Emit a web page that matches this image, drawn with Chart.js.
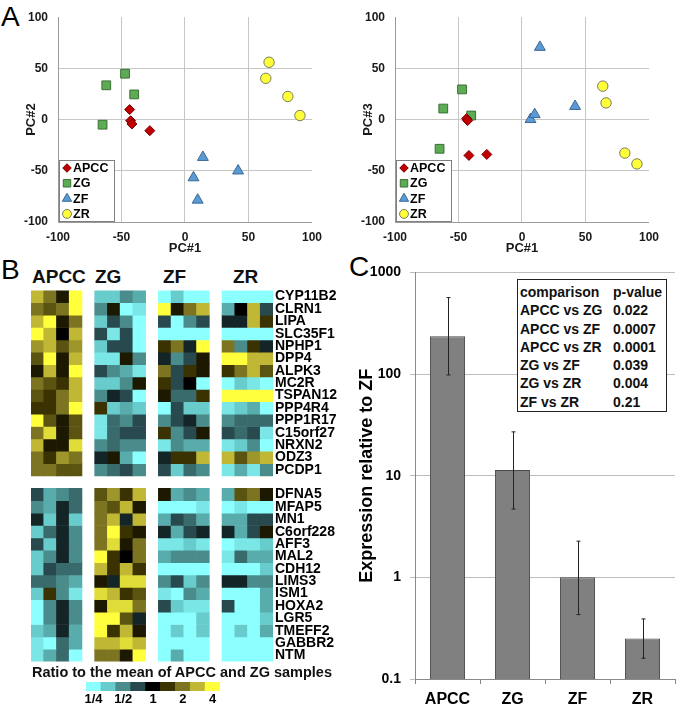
<!DOCTYPE html>
<html>
<head>
<meta charset="utf-8">
<script src="https://cdn.jsdelivr.net/npm/chart.js@4/dist/chart.umd.min.js"></script>
<style>
  body { margin: 0; background: #fff; }
  #page { position: relative; width: 677px; height: 706px; overflow: hidden;
          font-family: "Liberation Sans", Arial, sans-serif; font-weight: bold; color: #111; }
  .abs { position: absolute; line-height: 1; white-space: nowrap; }
  .panel { font-weight: normal; font-size: 28px; color: #000; }
  canvas { position: absolute; }
  #pvals { position: absolute; left: 517px; top: 279px; width: 148px; height: 128px;
           border: 1px solid #222; background: #fff; font-size: 14px; padding-top: 3px; box-sizing: content-box; }
  #pvals div { height: 18.3px; line-height: 18.3px; position: relative; }
  #pvals span { position: absolute; }
</style>
</head>
<body>
<div id="page">
  <div class="abs panel" style="left:1px;top:3px">A</div>
  <div class="abs panel" style="left:1px;top:256px">B</div>
  <div class="abs panel" style="left:349px;top:253px">C</div>

  <canvas id="pcaLeft" width="330" height="258" style="left:0;top:0"></canvas>
  <canvas id="pcaRight" width="330" height="258" style="left:337px;top:0"></canvas>

  <div class="abs" style="left:32px;top:267px;font-size:19px">APCC</div>
  <div class="abs" style="left:95px;top:267px;font-size:19px">ZG</div>
  <div class="abs" style="left:163px;top:267px;font-size:19px">ZF</div>
  <div class="abs" style="left:233px;top:267px;font-size:19px">ZR</div>
  <canvas id="heat" width="345" height="392" style="left:0;top:280px"></canvas>
  <div class="abs" style="left:32px;top:665px;font-size:14.5px">Ratio to the mean of APCC and ZG samples</div>
  <canvas id="scaleBar" width="150" height="28" style="left:80px;top:678px"></canvas>

  <canvas id="qpcr" width="340" height="451" style="left:337px;top:255px"></canvas>
  <div id="pvals"></div>
</div>
<script>
// ---- panel A: PCA scores ----
const groupNames = ["APCC", "ZG", "ZF", "ZR"];
const pc1Apcc = [-43.6, -42.8, -41.8, -27.7];
const pc1Zg = [-47.2, -62, -40, -64.9];
const pc1Zf = [14.1, 41.8, 6.7, 10];
const pc1Zr = [66.2, 63.6, 81, 90.5];
const pc2Apcc = [9.8, -1.1, -4.3, -10.8];
const pc2Zg = [44.8, 33.5, 24.6, -5];
const pc2Zf = [-36.8, -50, -56.7, -78.5];
const pc2Zr = [56, 40.3, 22.6, 4];
const pc3Apcc = [1, -1, -35, -34];
const pc3Zg = [29.5, 10.8, 4, -28.5];
const pc3Zf = [70.7, 13, 0.2, 5];
const pc3Zr = [16.3, 32.7, -32.7, -43.3];
const pcTicks = [-100, -50, 0, 50, 100];

// ---- panel B: heatmap, log2 ratio to mean of APCC and ZG ----
const topGenes = ["CYP11B2", "CLRN1", "LIPA", "SLC35F1", "NPHP1", "DPP4", "ALPK3", "MC2R",
  "TSPAN12", "PPP4R4", "PPP1R17", "C15orf27", "NRXN2", "ODZ3", "PCDP1"];
const bottomGenes = ["DFNA5", "MFAP5", "MN1", "C6orf228", "AFF3", "MAL2", "CDH12", "LIMS3",
  "ISM1", "HOXA2", "LGR5", "TMEFF2", "GABBR2", "NTM"];

const apccTop = [
  [1.5, 1, 0.25, 2], [1, 0.75, 1, 2], [1.5, 2, 0.25, 1], [2, 1.5, 0, 1.5],
  [1.25, 1.5, 0.75, 1.25], [0.75, 2, 0.25, 1.5], [0.25, 1.5, 0.25, 2], [1, 0.75, 0.5, 1.5],
  [0.75, 0.5, 1, 1.5], [0.5, 0.5, 1, 2], [2, 0.75, 0.25, 0.75], [1, 1.75, 0.25, 0.75],
  [1.5, 0.25, 0.25, 1.75], [1, 0.5, 1.25, 1], [1, 1, 0.75, 0.75]];
const zgTop = [
  [-1.5, -1.5, -1, -1.25], [-1, 0.25, -2, -1.75], [-1.5, -0.5, -1, -2], [-0.5, -1.75, -0.5, -2],
  [-1.5, -0.5, -0.5, -2], [-1.75, -1.75, 0.25, -1], [-0.5, -1, -1.25, -1.75], [-1.5, -1.5, -1, 0.25],
  [-1, -0.25, -0.5, -2], [0.5, -1.5, -1.25, -1.5], [-1.75, -0.75, -1, -0.5], [-1.75, -0.75, -0.5, -0.5],
  [-1, -0.75, -1, -1], [-0.25, 0.25, -1.25, -2], [-1, -0.75, -0.5, -1]];
const zfTop = [
  [-2, -1.5, -2, -2], [2, 0.25, 1, 1.5], [-0.5, -2, -1, -0.5], [-2, -2, -2, -2],
  [0.5, 1, -0.25, 2], [-0.25, -1, -0.5, 0.25], [1, -0.5, 0.5, 0.25], [0.5, -0.5, 0, -2],
  [0.25, -0.75, -0.75, 0.5], [-2, -0.5, -1.5, -1.5], [-1, -0.5, -0.25, -1], [0.5, -1, -0.5, 0.25],
  [-1.75, -1, -1.25, -1.25], [-0.25, 0.5, 0.5, 1.5], [-0.5, -1.5, -0.75, -1]];
const zrTop = [
  [-2, -2, -2, -2], [-1.25, 0, 1.5, -0.5], [-0.25, -0.25, 1.5, 0.5], [-2, -2, -2, -2],
  [1, -1, 0.5, -0.25], [2, 2, 1.5, 1.5], [0.5, 1, 1.5, 0.75], [-2, -1.5, -1.75, -2],
  [2, 2, 2, 2], [-1.75, -1.5, -1.25, -2], [-1, -0.75, -0.75, -0.75], [-0.5, -0.75, -0.5, -1.75],
  [-1.75, -1.5, -1, -2], [1.5, 0.75, 1.25, 1.5], [-1.75, -1.25, -1.75, -1]];
const apccBottom = [
  [-0.5, -1.25, -1, -0.75], [-1, -1.25, -0.25, -0.75], [-0.25, -1.5, -0.25, -1.5], [-1.5, -0.75, -0.25, -1],
  [-0.5, -1.5, -0.25, -1], [-1.5, -1, -0.25, -1], [-1.5, -0.5, -0.75, -0.75], [-0.75, -0.75, -1, -1.25],
  [-1.5, 0.5, -1, -1.75], [-2, -1, -0.25, -1], [-2, -1, -0.25, -1], [-1.5, -1.25, -0.25, -1.25],
  [-1.75, -2, -0.75, -1.25], [-1.75, -1.25, -0.75, -2]];
const zgBottom = [
  [0.75, 1.25, 0.5, 1.5], [1, 0.75, 1.5, 0.25], [1, 1.5, -0.25, 1.5], [1, 2, 0.5, 0.25],
  [1, 1.75, 0.25, 1], [2, 0.5, 0, 1], [1.5, 0.5, 1.5, 0.5], [0.25, -0.25, 1.75, 1.75],
  [1.75, 1.5, 0.5, 0.75], [0.25, 1.75, 1.75, 1], [2, 2, 0.75, -0.25], [2, 0.5, 1.5, 0.25],
  [1.5, 1.5, 1.75, 1.5], [1, 1, 0.25, 2]];
const zfBottom = [
  [0.25, -1.25, -1, -1.25], [-2, -2, -2, -1.75], [-1.25, -0.5, -0.75, -1.25], [-0.25, -1.25, -0.5, -0.25],
  [-1.75, -1.75, -1.5, -1.75], [-1.25, -1, -1, -1], [-2, -2, -2, -2], [-1, -0.5, -1.5, -1],
  [-1.75, -2, -1, -1.25], [-0.5, -1.5, -1.75, -1.75], [-2, -2, -2, -1.5], [-2, -1.5, -2, -1.5],
  [-2, -2, -2, -2], [-2, -1.25, -2, -2]];
const zrBottom = [
  [-1.25, 0.75, 1, 0.25], [-2, -1.75, -2, -2], [-1.25, -1.25, -0.5, -0.5], [-0.25, -1.25, -0.5, 0.25],
  [-2, -1.75, -1.75, -1.5], [-1.75, -0.75, -1.25, -1.25], [-2, -2, -2, -1.5], [-0.25, -0.25, -1, -1],
  [-2, -2, -2, -1.25], [-0.5, -2, -2, -1.25], [-2, -2, -2, -1.5], [-2, -1.5, -2, -1.25],
  [-2, -2, -2, -2], [-2, -2, -2, -2]];

const scaleSteps = [-2, -1.5, -1, -0.5, 0, 0.5, 1, 1.5, 2];
const scaleLabels = ["1/4", "", "1/2", "", "1", "", "2", "", "4"];
const scaleRgb = [[140, 255, 255], [104, 204, 204], [74, 140, 140], [40, 74, 78], [0, 0, 0],
  [58, 50, 0], [124, 116, 32], [192, 184, 52], [255, 255, 60]];

// ---- panel C: qPCR relative to ZF ----
const barLabels = ["APCC", "ZG", "ZF", "ZR"];
const barMeans = [236, 11.4, 1, 0.25];
const barLow = [98, 4.7, 0.43, 0.16];
const barHigh = [565, 27, 2.27, 0.39];
const barTicks = [0.1, 1, 10, 100, 1000];
const comparisons = ["APCC vs ZG", "APCC vs ZF", "APCC vs ZR", "ZG vs ZF", "ZG vs ZR", "ZF vs ZR"];
const pValues = ["0.022", "0.0007", "0.0001", "0.039", "0.004", "0.21"];

Chart.defaults.font.family = '"Liberation Sans", Arial, sans-serif';
Chart.defaults.font.weight = "bold";
Chart.defaults.color = "#1a1a1a";
Chart.defaults.animation = false;
Chart.defaults.events = [];
Chart.defaults.plugins.legend.display = false;
Chart.defaults.plugins.tooltip.enabled = false;

const markers = [
  { style: "rectRot", r: 5, fill: "#C00000", line: "#7a0000" },
  { style: "rect", r: 6.2, fill: "#5DAB55", line: "#3a6f34" },
  { style: "triangle", r: 6.3, fill: "#5B9BD5", line: "#3b6893" },
  { style: "circle", r: 5.2, fill: "#FFFF3A", line: "#7a7a5a" }
];

const drawMarker = (ctx, m, x, y, r) => {
  ctx.fillStyle = m.fill;
  ctx.strokeStyle = m.line;
  ctx.lineWidth = 1;
  ctx.beginPath();
  if (m.style === "rectRot") {
    ctx.moveTo(x - r, y); ctx.lineTo(x, y - r); ctx.lineTo(x + r, y); ctx.lineTo(x, y + r); ctx.closePath();
  } else if (m.style === "rect") {
    const s = r * Math.SQRT1_2;
    ctx.rect(x - s, y - s, 2 * s, 2 * s);
  } else if (m.style === "triangle") {
    ctx.moveTo(x, y - r); ctx.lineTo(x + r * 0.866, y + r / 2); ctx.lineTo(x - r * 0.866, y + r / 2); ctx.closePath();
  } else {
    ctx.arc(x, y, r, 0, Math.PI * 2);
  }
  ctx.fill();
  ctx.stroke();
};

// legend box sitting in the lower left corner of the plot
const insideLegend = {
  id: "insideLegend",
  afterDraw(chart) {
    const { ctx, chartArea } = chart;
    const x = chartArea.left + 1, y = chartArea.bottom - 62;
    ctx.save();
    ctx.fillStyle = "#fff";
    ctx.fillRect(x, y, 55, 62);
    ctx.strokeStyle = "#808080";
    ctx.lineWidth = 1;
    ctx.strokeRect(x + 0.5, y + 0.5, 55, 61);
    ctx.font = 'bold 12.5px "Liberation Sans", Arial, sans-serif';
    ctx.textBaseline = "middle";
    groupNames.forEach((name, i) => {
      const cy = y + 8 + i * 15.3;
      drawMarker(ctx, markers[i], x + 8, cy, markers[i].r * 0.85);
      ctx.fillStyle = "#000";
      ctx.fillText(name, x + 14, cy + 0.5);
    });
    ctx.restore();
  }
};

const pcaGrid = c => (Math.abs(c.tick.value) === 100 ? "rgba(0,0,0,0)" : "#c6c6c6");

const makePca = (id, xs, ys, yTitle) => {
  new Chart(document.getElementById(id), {
    type: "scatter",
    data: {
      datasets: groupNames.map((name, i) => ({
        label: name,
        data: xs[i].map((v, k) => ({ x: v, y: ys[i][k] })),
        pointStyle: markers[i].style,
        pointRadius: markers[i].r,
        backgroundColor: markers[i].fill,
        borderColor: markers[i].line,
        borderWidth: 1
      }))
    },
    options: {
      responsive: false,
      layout: { padding: { top: 14, right: 12, left: 0, bottom: 0 } },
      scales: {
        x: {
          type: "linear", min: -100, max: 100,
          afterBuildTicks: s => { s.ticks = pcTicks.map(v => ({ value: v })); },
          ticks: { padding: 8, font: { size: 12 } },
          grid: { color: pcaGrid, drawTicks: false },
          border: { color: "#9a9a9a" },
          title: { display: true, text: "PC#1", font: { size: 13 }, padding: { top: 0, bottom: 2 } },
          afterFit: s => { s.height = 36; }
        },
        y: {
          type: "linear", min: -100, max: 100,
          afterBuildTicks: s => { s.ticks = pcTicks.map(v => ({ value: v })); },
          ticks: { padding: 10, font: { size: 12 } },
          grid: { color: pcaGrid, drawTicks: false },
          border: { color: "#9a9a9a" },
          title: { display: true, text: yTitle, font: { size: 13 }, padding: { top: 24, bottom: 0 } },
          afterFit: s => { s.width = 58; }
        }
      }
    },
    plugins: [insideLegend]
  });
};

const pc1 = [pc1Apcc, pc1Zg, pc1Zf, pc1Zr];
makePca("pcaLeft", pc1, [pc2Apcc, pc2Zg, pc2Zf, pc2Zr], "PC#2");
makePca("pcaRight", pc1, [pc3Apcc, pc3Zg, pc3Zf, pc3Zr], "PC#3");

// ---- heatmap as floating bars, one dataset per gene row ----
const heatColor = v => {
  const t = Math.max(0, Math.min(8, (v + 2) * 2));
  const i = Math.min(7, Math.floor(t)), f = t - i;
  const a = scaleRgb[i], b = scaleRgb[i + 1];
  const c = a.map((ch, k) => Math.round(ch + (b[k] - ch) * f));
  return `rgb(${c[0]},${c[1]},${c[2]})`;
};

const columns = [];
groupNames.forEach((g, gi) => {
  if (gi > 0) columns.push("");
  for (let s = 1; s <= 4; s++) columns.push(g + s);
});

const topBlocks = [apccTop, zgTop, zfTop, zrTop];
const bottomBlocks = [apccBottom, zgBottom, zfBottom, zrBottom];
const heatRows = [];
topGenes.forEach((gene, i) => heatRows.push({ gene, row: i, blocks: topBlocks, k: i }));
bottomGenes.forEach((gene, j) => heatRows.push({ gene, row: topGenes.length + 1 + j, blocks: bottomBlocks, k: j }));
const heatRowCount = topGenes.length + 1 + bottomGenes.length;

const heatDatasets = heatRows.map(r => {
  const data = [], colors = [];
  columns.forEach((c, ci) => {
    if (!c) { data.push(null); colors.push("rgba(0,0,0,0)"); return; }
    const g = Math.floor(ci / 5), s = ci % 5;
    data.push([r.row, r.row + 1]);
    colors.push(heatColor(r.blocks[g][r.k][s]));
  });
  return { label: r.gene, data, backgroundColor: colors, borderWidth: 0 };
});

new Chart(document.getElementById("heat"), {
  type: "bar",
  data: { labels: columns, datasets: heatDatasets },
  options: {
    responsive: false,
    layout: { padding: { left: 31, top: 5, bottom: 5, right: 0 } },
    datasets: { bar: { grouped: false, barPercentage: 1, categoryPercentage: 1 } },
    scales: {
      x: { display: false },
      y: {
        position: "right", min: 0, max: heatRowCount, reverse: true,
        grid: { display: false, drawTicks: false }, border: { display: false },
        afterBuildTicks: s => { s.ticks = heatRows.map(r => ({ value: r.row + 0.5 })); },
        ticks: { autoSkip: false, padding: 2, color: "#000", font: { size: 14 },
                 callback: (v, i) => heatRows[i].gene },
        afterFit: s => { s.width = 72; }
      }
    }
  }
});

// colour key under the heatmap
new Chart(document.getElementById("scaleBar"), {
  type: "bar",
  data: {
    labels: scaleLabels,
    datasets: [{ data: scaleSteps.map(() => 1), backgroundColor: scaleSteps.map(heatColor), borderWidth: 0 }]
  },
  options: {
    responsive: false,
    layout: { padding: { left: 6, right: 10, top: 4, bottom: 0 } },
    datasets: { bar: { barPercentage: 1, categoryPercentage: 1 } },
    scales: {
      x: {
        grid: { display: false, drawTicks: false }, border: { display: false },
        ticks: { autoSkip: false, maxRotation: 0, padding: 1, color: "#000", font: { size: 13 } },
        afterFit: s => { s.height = 15; }
      },
      y: { display: false, min: 0, max: 1 }
    }
  }
});

// ---- panel C bars with error bars ----
const errorBars = {
  id: "errorBars",
  afterDatasetsDraw(chart) {
    const { ctx } = chart;
    const y = chart.scales.y;
    ctx.save();
    ctx.strokeStyle = "#222";
    ctx.lineWidth = 1;
    chart.getDatasetMeta(0).data.forEach((bar, i) => {
      const x = Math.round(bar.x) + 0.5;
      const hi = y.getPixelForValue(barHigh[i]);
      const lo = y.getPixelForValue(barLow[i]);
      ctx.beginPath();
      ctx.moveTo(x, hi); ctx.lineTo(x, lo);
      ctx.moveTo(x - 2, hi); ctx.lineTo(x + 2, hi);
      ctx.moveTo(x - 2, lo); ctx.lineTo(x + 2, lo);
      ctx.stroke();
    });
    ctx.restore();
  }
};

new Chart(document.getElementById("qpcr"), {
  type: "bar",
  data: {
    labels: barLabels,
    datasets: [{ data: barMeans, backgroundColor: "#808080", borderColor: "#4a4a4a", borderWidth: 1,
                 barPercentage: 0.54, categoryPercentage: 1 }]
  },
  options: {
    responsive: false,
    layout: { padding: { top: 16, right: 2, left: 0, bottom: 0 } },
    scales: {
      x: {
        grid: { drawOnChartArea: false, offset: true, tickLength: 5, color: "#8a8a8a" },
        border: { color: "#8a8a8a" },
        ticks: { padding: 6, color: "#000", font: { size: 16 } },
        afterFit: s => { s.height = 27; }
      },
      y: {
        type: "logarithmic", min: 0.1, max: 1000,
        afterBuildTicks: s => { s.ticks = barTicks.map(v => ({ value: v })); },
        ticks: { padding: 9, color: "#000", font: { size: 14 }, callback: v => String(v) },
        grid: { color: "#bdbdbd", tickLength: 5 },
        border: { color: "#8a8a8a" },
        title: { display: true, text: "Expression relative to ZF", color: "#000", font: { size: 18 },
                 padding: { top: 19, bottom: 0 } },
        afterFit: s => { s.width = 78; }
      }
    }
  },
  plugins: [errorBars]
});

// p-value table
const pvals = document.getElementById("pvals");
const addRow = (a, b) => {
  const row = document.createElement("div");
  row.innerHTML = `<span style="left:2px">${a}</span><span style="left:95px">${b}</span>`;
  pvals.appendChild(row);
};
addRow("comparison", "p-value");
comparisons.forEach((c, i) => addRow(c, pValues[i]));
</script>
</body>
</html>
